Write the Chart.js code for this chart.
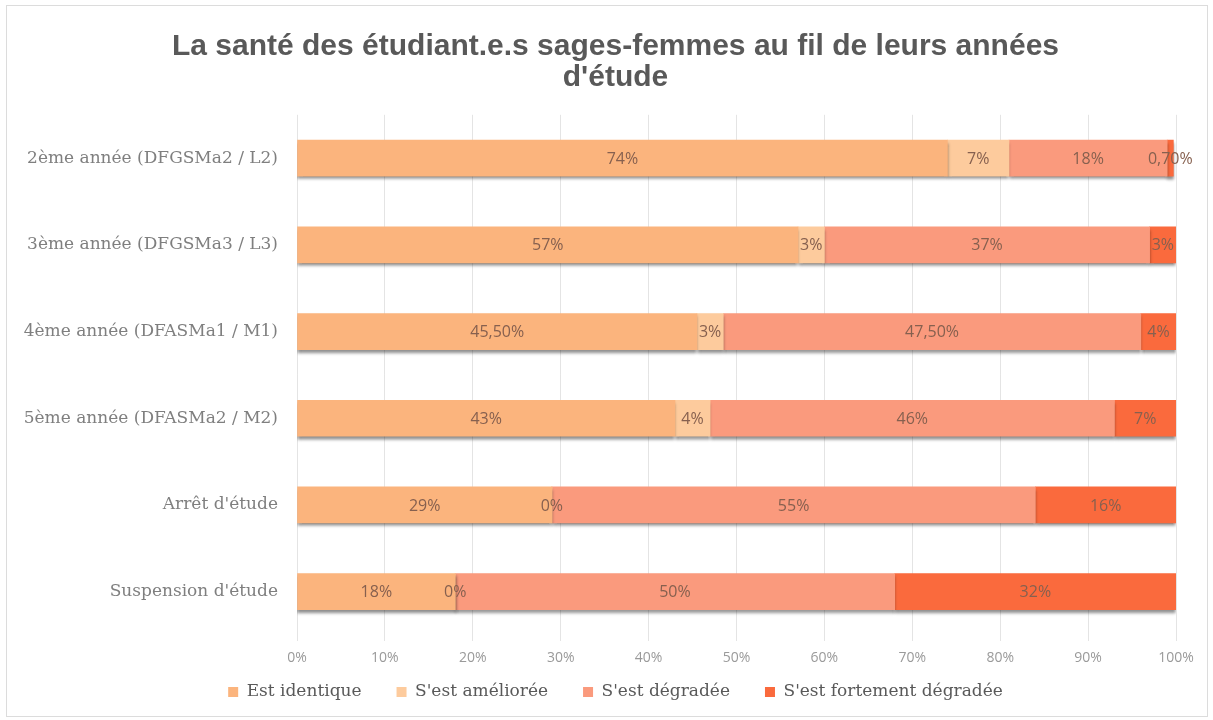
<!DOCTYPE html>
<html>
<head>
<meta charset="utf-8">
<script src="https://cdn.jsdelivr.net/npm/chart.js@4.4.0/dist/chart.umd.min.js"></script>
<style>
  html,body{margin:0;padding:0;background:#fff;}
  #wrap{position:relative;width:1213px;height:720px;overflow:hidden;}
  #frame{position:absolute;left:6px;top:5px;width:1202px;height:712px;border:1px solid #dcdcdc;box-sizing:border-box;}
  canvas{position:absolute;left:0;top:0;}
</style>
</head>
<body>
<div id="wrap">
  <div id="frame"></div>
  <canvas id="c" width="1213" height="720"></canvas>
</div>
<script>
const categories = [
  "2ème année (DFGSMa2 / L2)",
  "3ème année (DFGSMa3 / L3)",
  "4ème année (DFASMa1 / M1)",
  "5ème année (DFASMa2 / M2)",
  "Arrêt d'étude",
  "Suspension d'étude"
];
const seriesNames = ["Est identique", "S'est améliorée", "S'est dégradée", "S'est fortement dégradée"];
const estIdentique = [74, 57, 45.5, 43, 29, 18];
const sestAmelioree = [7, 3, 3, 4, 0, 0];
const sestDegradee = [18, 37, 47.5, 46, 55, 50];
const sestFortementDegradee = [0.7, 3, 4, 7, 16, 32];
const xTicks = [0, 10, 20, 30, 40, 50, 60, 70, 80, 90, 100];
const colors = ["#FBB47D", "#FDCB9D", "#FA9A7D", "#FA6A3D"];

function fmt(v){
  return Number.isInteger(v) ? v + "%" : v.toFixed(2).replace(".", ",") + "%";
}

const LEGEND_PAD = 35;
const LEGEND_FONT = 17;
const LEGEND_CENTER_Y = 692;

const shadowPlugin = {
  id: "shadow",
  beforeDatasetsDraw(chart){
    const ctx = chart.ctx;
    ctx.save();
    ctx.shadowColor = "rgba(0,0,0,0.45)";
    ctx.shadowBlur = 3;
    ctx.shadowOffsetX = 0;
    ctx.shadowOffsetY = 3;
  },
  afterDatasetsDraw(chart){
    chart.ctx.restore();
  }
};

const legendPlacePlugin = {
  id: "legendPlace",
  afterLayout(chart){
    const lg = chart.legend;
    if (!lg) return;
    lg.top = LEGEND_CENTER_Y - LEGEND_FONT / 2 - LEGEND_PAD;
    lg.bottom = chart.height;
    lg.height = lg.bottom - lg.top;
  }
};

const labelPlugin = {
  id: "segLabels",
  afterDatasetsDraw(chart){
    const ctx = chart.ctx;
    ctx.save();
    ctx.font = "16px 'Open Sans'";
    ctx.fillStyle = "#86604f";
    ctx.textAlign = "center";
    ctx.textBaseline = "middle";
    chart.data.datasets.forEach((ds, di) => {
      const meta = chart.getDatasetMeta(di);
      meta.data.forEach((bar, i) => {
        const v = ds.data[i];
        const cx = (bar.x + bar.base) / 2;
        ctx.fillText(fmt(v), cx, bar.y + 1);
      });
    });
    ctx.restore();
  }
};

new Chart(document.getElementById("c"), {
  type: "bar",
  data: {
    labels: categories,
    datasets: [
      { label: seriesNames[0], data: estIdentique, backgroundColor: colors[0] },
      { label: seriesNames[1], data: sestAmelioree, backgroundColor: colors[1] },
      { label: seriesNames[2], data: sestDegradee, backgroundColor: colors[2] },
      { label: seriesNames[3], data: sestFortementDegradee, backgroundColor: colors[3] }
    ]
  },
  options: {
    indexAxis: "y",
    responsive: false,
    animation: false,
    layout: { padding: { left: 18, right: 0, top: 0, bottom: 0 } },
    datasets: { bar: { barThickness: 36, borderWidth: 0 } },
    scales: {
      x: {
        stacked: true,
        min: 0, max: 100,
        afterBuildTicks(scale){ scale.ticks = xTicks.map(v => ({ value: v })); },
        afterFit(scale){ scale.height = 55; },
        ticks: {
          callback: v => v + "%",
          color: "#9a9a9a",
          font: { family: "'Open Sans'", size: 14 },
          padding: 9
        },
        grid: { color: "#e4e4e4", drawTicks: true, tickLength: 6 },
        border: { display: false }
      },
      y: {
        stacked: true,
        afterFit(scale){ scale.width = 279; },
        ticks: {
          color: "#7f7f7f",
          font: { family: "'DejaVu Serif'", size: 17 },
          padding: 11
        },
        grid: { display: false },
        border: { display: false }
      },
      yRight: {
        type: "linear",
        position: "right",
        display: true,
        afterFit(scale){ scale.width = 37; },
        ticks: { display: false },
        grid: { display: false },
        border: { display: false }
      }
    },
    plugins: {
      title: {
        display: true,
        text: ["La santé des étudiant.e.s sages-femmes au fil de leurs années", "d'étude"],
        color: "#595959",
        font: { family: "'Liberation Sans'", size: 30, weight: "bold", lineHeight: 1.03 },
        padding: { top: 31, bottom: 22 }
      },
      legend: {
        position: "bottom",
        maxHeight: 30,
        labels: {
          color: "#595959",
          font: { family: "'DejaVu Serif'", size: LEGEND_FONT },
          boxWidth: 10, boxHeight: 10,
          padding: LEGEND_PAD
        }
      },
      tooltip: { enabled: false }
    }
  },
  plugins: [shadowPlugin, labelPlugin, legendPlacePlugin]
});
</script>
</body>
</html>
